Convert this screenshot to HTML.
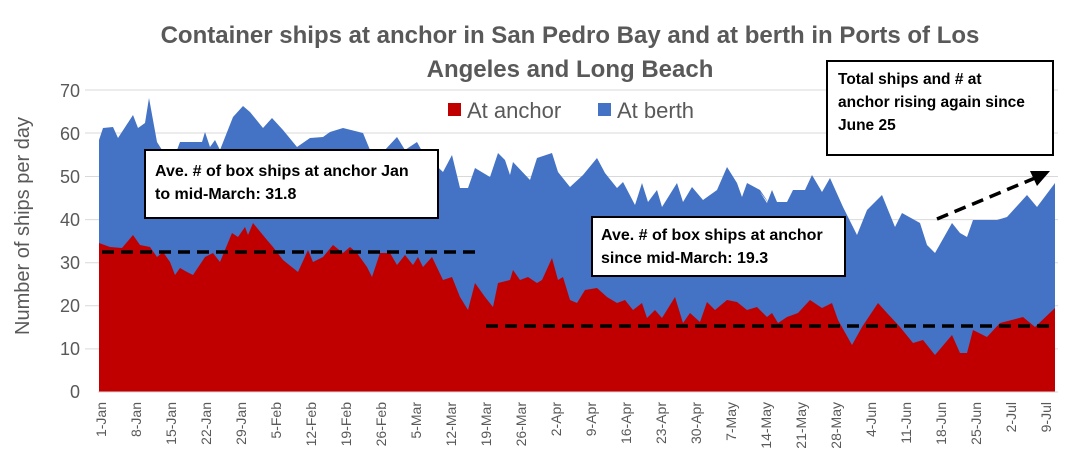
<!DOCTYPE html>
<html><head><meta charset="utf-8"><style>
body{margin:0;background:#fff;}
svg{display:block;font-family:"Liberation Sans",sans-serif;}
</style></head><body>
<svg width="1080" height="470" viewBox="0 0 1080 470">
<rect width="1080" height="470" fill="#fff"/>
<g stroke="#d9d9d9" stroke-width="1">
<line x1="85" y1="90" x2="1058" y2="90"/>
<line x1="85" y1="133" x2="1058" y2="133"/>
<line x1="85" y1="176.5" x2="1058" y2="176.5"/>
<line x1="85" y1="219.6" x2="1058" y2="219.6"/>
<line x1="85" y1="262.7" x2="1058" y2="262.7"/>
<line x1="85" y1="305.8" x2="1058" y2="305.8"/>
<line x1="85" y1="348.9" x2="1058" y2="348.9"/>
</g>
<polygon fill="#4472c4" points="99,392 99,140 103,128 113,127 118,138 133,115 138,128 145,123 149,98 157,142 162,150 177,150 180,142 202,142 205,132 210,147 215,140 220,150 233,117 243,106 250,112 263,128 272,118 283,130 297,147 310,138 323,137 330,132 343,128 363,133 370,150 383,152 397,137 405,150 417,142 423,153 443,172 452,155 460,188 468,188 475,168 490,177 498,153 505,160 510,175 513,162 530,180 537,158 552,153 558,172 570,187 583,175 597,158 605,173 617,188 623,182 635,205 642,183 648,202 657,190 662,207 677,183 683,202 692,187 703,200 717,190 727,167 737,183 742,197 747,183 760,190 770,205 760,192 767,203 772,190 777,202 787,202 793,190 805,190 812,175 822,192 830,178 843,207 857,235 867,210 882,195 895,227 902,213 920,223 927,245 935,253 952,223 960,233 967,237 973,220 997,220 1007,217 1027,195 1037,207 1055,183 1055,392"/>
<polygon fill="#c00000" points="99,392 99,243 110,247 122,248 133,235 140,245 150,247 157,257 163,252 170,262 175,275 180,268 187,272 193,275 205,257 213,253 220,262 232,233 238,237 245,227 248,235 253,223 267,240 273,247 283,260 298,272 308,250 313,262 323,257 333,245 343,253 350,247 357,253 367,267 372,277 380,253 390,253 397,265 405,255 413,265 418,257 423,267 432,257 443,280 452,277 460,297 468,310 475,283 485,297 493,307 498,283 510,280 513,270 520,280 528,277 537,283 542,280 552,258 558,280 563,277 570,300 577,303 585,290 597,288 607,297 617,303 625,300 633,310 642,303 647,318 655,310 662,318 675,297 683,323 690,313 700,322 707,302 715,310 727,300 737,302 747,310 757,307 767,317 772,313 778,323 787,317 798,313 810,300 822,308 832,303 838,320 852,345 862,327 878,303 887,313 900,327 913,343 923,340 935,355 952,335 960,353 967,353 973,330 987,337 1000,323 1023,317 1035,327 1055,308 1055,392"/>
<line x1="98" y1="392" x2="1058" y2="392" stroke="#d9d9d9"/>
<g stroke="#000" stroke-width="3.5" stroke-dasharray="12,7" fill="none">
<line x1="102" y1="252" x2="482" y2="252"/>
<line x1="486" y1="326" x2="1052" y2="326"/>
<line x1="937" y1="219" x2="1035" y2="178"/>
</g>
<polygon points="1050,171 1030,171 1037,186" fill="#000"/>
<g font-size="18" fill="#595959" text-anchor="end">
<text x="80" y="97">70</text><text x="80" y="140">60</text><text x="80" y="183">50</text><text x="80" y="226">40</text><text x="80" y="269">30</text><text x="80" y="312">20</text><text x="80" y="355">10</text><text x="80" y="398">0</text>
</g>
<text transform="translate(29,226) rotate(-90)" font-size="20" fill="#595959" text-anchor="middle">Number of ships per day</text>
<text x="570" y="43" font-size="24" font-weight="bold" fill="#595959" text-anchor="middle">Container ships at anchor in San Pedro Bay and at berth in Ports of Los</text>
<text x="570" y="77" font-size="24" font-weight="bold" fill="#595959" text-anchor="middle">Angeles and Long Beach</text>
<rect x="448" y="103" width="13" height="13" fill="#c00000"/>
<text x="467" y="118" font-size="22" fill="#595959">At anchor</text>
<rect x="598" y="103" width="13" height="13" fill="#4472c4"/>
<text x="617" y="118" font-size="22" fill="#595959">At berth</text>
<rect x="145" y="150" width="293" height="68" fill="#fff" stroke="#000" stroke-width="2"/>
<text x="155" y="176" font-size="16" font-weight="bold">Ave. # of box ships at anchor Jan</text>
<text x="155" y="199" font-size="16" font-weight="bold">to mid-March: 31.8</text>
<rect x="592" y="217" width="253" height="59" fill="#fff" stroke="#000" stroke-width="2"/>
<text x="601" y="240" font-size="16" font-weight="bold">Ave. # of box ships at anchor</text>
<text x="601" y="263" font-size="16" font-weight="bold">since mid-March: 19.3</text>
<rect x="827" y="61" width="226" height="94" fill="#fff" stroke="#000" stroke-width="2"/>
<text x="838" y="84" font-size="15.5" font-weight="bold">Total ships and # at</text>
<text x="838" y="107" font-size="15.5" font-weight="bold">anchor rising again since</text>
<text x="838" y="130" font-size="15.5" font-weight="bold">June 25</text>
<g font-size="14" fill="#595959" text-anchor="end">
<text transform="translate(106,402) rotate(-90)">1-Jan</text>
<text transform="translate(141,402) rotate(-90)">8-Jan</text>
<text transform="translate(176,402) rotate(-90)">15-Jan</text>
<text transform="translate(211,402) rotate(-90)">22-Jan</text>
<text transform="translate(246,402) rotate(-90)">29-Jan</text>
<text transform="translate(281,402) rotate(-90)">5-Feb</text>
<text transform="translate(316,402) rotate(-90)">12-Feb</text>
<text transform="translate(351,402) rotate(-90)">19-Feb</text>
<text transform="translate(386,402) rotate(-90)">26-Feb</text>
<text transform="translate(421,402) rotate(-90)">5-Mar</text>
<text transform="translate(456,402) rotate(-90)">12-Mar</text>
<text transform="translate(491,402) rotate(-90)">19-Mar</text>
<text transform="translate(526,402) rotate(-90)">26-Mar</text>
<text transform="translate(561,402) rotate(-90)">2-Apr</text>
<text transform="translate(596,402) rotate(-90)">9-Apr</text>
<text transform="translate(631,402) rotate(-90)">16-Apr</text>
<text transform="translate(666,402) rotate(-90)">23-Apr</text>
<text transform="translate(701,402) rotate(-90)">30-Apr</text>
<text transform="translate(736,402) rotate(-90)">7-May</text>
<text transform="translate(771,402) rotate(-90)">14-May</text>
<text transform="translate(806,402) rotate(-90)">21-May</text>
<text transform="translate(841,402) rotate(-90)">28-May</text>
<text transform="translate(876,402) rotate(-90)">4-Jun</text>
<text transform="translate(911,402) rotate(-90)">11-Jun</text>
<text transform="translate(946,402) rotate(-90)">18-Jun</text>
<text transform="translate(981,402) rotate(-90)">25-Jun</text>
<text transform="translate(1016,402) rotate(-90)">2-Jul</text>
<text transform="translate(1051,402) rotate(-90)">9-Jul</text>
</g>
</svg>
</body></html>
